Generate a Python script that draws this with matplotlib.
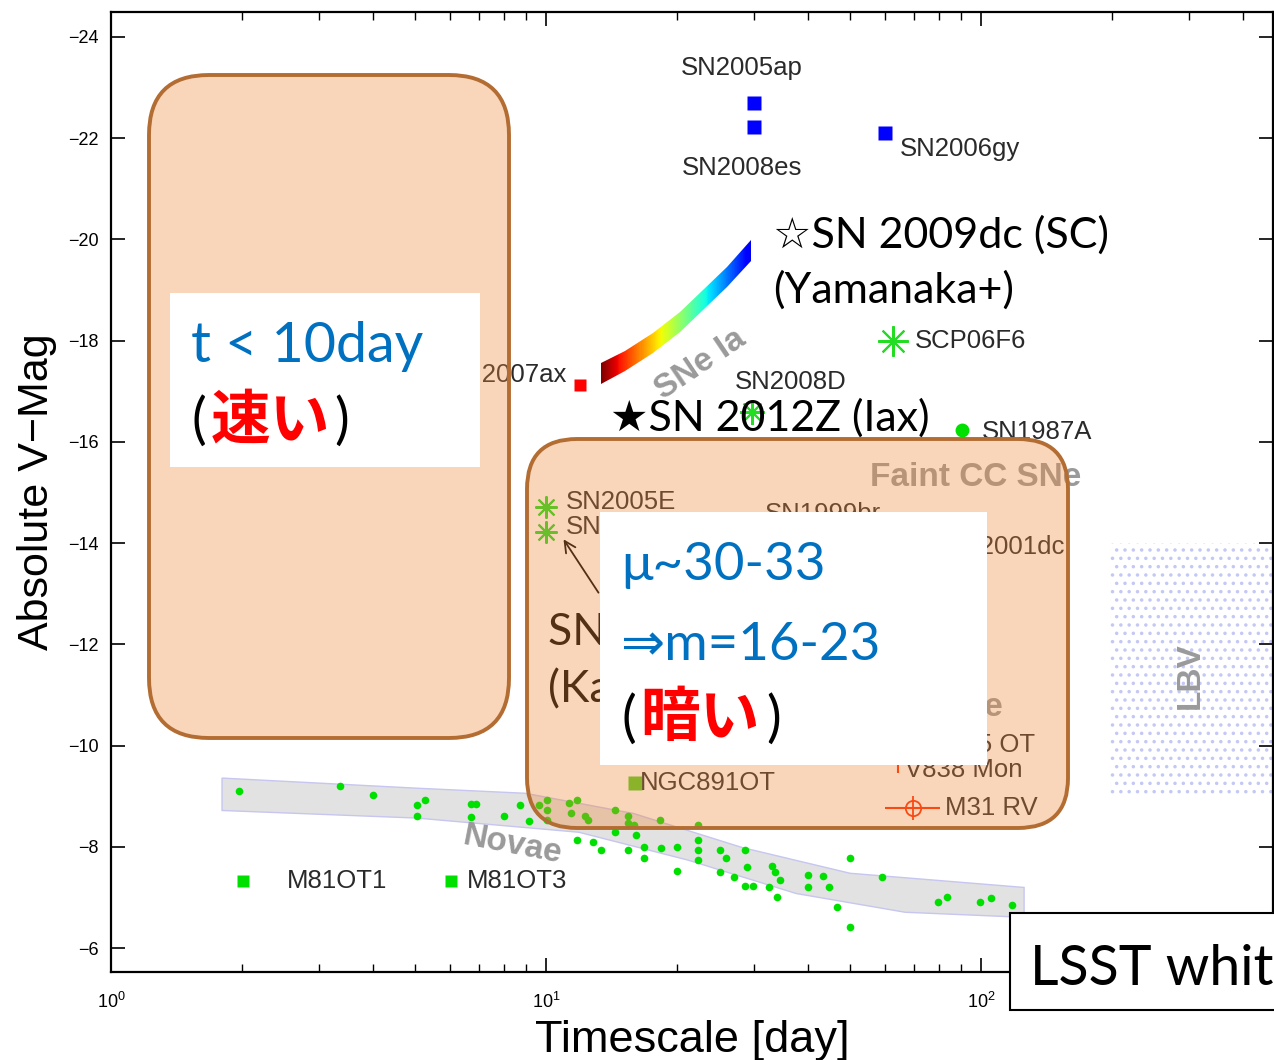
import numpy as np
import matplotlib
matplotlib.use("Agg")
import matplotlib.pyplot as plt
from matplotlib.patches import FancyBboxPatch, Rectangle, Polygon, FancyArrowPatch

plt.rcParams['font.family'] = ['Liberation Sans', 'DejaVu Sans']
plt.rcParams['hatch.linewidth'] = 1.3

W, H = 1274, 1060

# novae (timescale [day], absolute V mag)
novae_t = [1.97, 3.36, 4.00, 5.27, 5.05, 5.05, 6.72, 6.90, 6.72, 8.01, 8.71, 9.14,
           9.64, 10.05, 10.05, 10.05, 11.29, 11.79, 11.41, 12.29, 12.49, 14.41,
           15.44, 15.44, 15.94, 16.10, 14.41, 18.29, 11.79, 12.83, 13.38, 15.44,
           16.80, 16.80, 18.38, 20.01, 22.36, 22.36, 22.36, 22.36, 20.01, 25.12,
           25.93, 28.68, 28.98, 25.12, 27.05, 28.68, 29.92, 33.07, 33.60, 34.51,
           32.55, 33.96, 40.02, 40.02, 43.34, 44.74, 46.67, 50.0, 50.0, 59.22,
           79.62, 83.54, 99.5, 105.4, 117.8]
novae_mag = [-9.10, -9.20, -9.02, -8.92, -8.82, -8.62, -8.84, -8.84, -8.60, -8.62,
             -8.82, -8.51, -8.82, -8.92, -8.72, -8.53, -8.86, -8.92, -8.68, -8.62,
             -8.53, -8.72, -8.62, -8.47, -8.43, -8.23, -8.29, -8.53, -8.13, -8.09,
             -7.93, -7.93, -7.99, -7.79, -7.97, -7.99, -8.43, -8.13, -7.93, -7.74,
             -7.52, -7.93, -7.79, -7.93, -7.60, -7.50, -7.40, -7.22, -7.22, -7.62,
             -7.50, -7.34, -7.20, -7.02, -7.44, -7.20, -7.42, -7.20, -6.81, -7.79,
             -6.41, -7.40, -6.91, -7.02, -6.91, -7.00, -6.85]

# novae band outline
band_top_t = [1.8, 5.05, 8.95, 15.9, 28.2, 50.0, 125.6]
band_top_mag = [-9.36, -9.16, -9.06, -8.66, -7.99, -7.48, -7.20]
band_bot_t = [1.8, 5.05, 11.9, 21.2, 37.6, 66.9, 125.6]
band_bot_mag = [-8.72, -8.57, -8.29, -7.74, -7.08, -6.71, -6.61]

# SNe Ia track (centre line)
ia_t = [13.4, 15.2, 17.6, 20.3, 23.0, 26.0, 29.6]
ia_mag = [-17.35, -17.60, -17.95, -18.37, -18.80, -19.25, -19.78]
ia_half = 0.2

# LBV region
lbv_t = [198, 520]
lbv_mag = [-14.0, -9.0]

# superluminous SNe (blue squares)
slsn_t = [30.1, 30.1, 60.2]
slsn_mag = [-22.70, -22.22, -22.10]

# green asterisks
ast_names = ['SCP06F6', 'SN2008D', 'SN2005E', 'SN2008ha']
ast_t = [62.8, 29.8, 10.0, 10.0]
ast_mag = [-17.99, -16.59, -14.71, -14.22]
ast_size = [22, 18, 16, 16]

# other objects
sn07ax = (12.0, -17.12)
sn87a = (90.4, -16.23)
ngc891 = (16.0, -9.26)
m81_t = [2.01, 6.05]
m81_mag = [-7.32, -7.32]
v838 = (64.5, -9.61)
m31rv = (69.8, -8.76)
m31rv_err = [60.2, 80.5]

# (text, t, mag, ha)
labels = [
    ('SN2005ap', 28.2, -23.39, 'center'),
    ('SN2008es', 28.2, -21.41, 'center'),
    ('SN2006gy', 65.2, -21.79, 'left'),
    ('SCP06F6', 70.5, -17.99, 'left'),
    ('SN2008D', 27.2, -17.18, 'left'),
    ('SN1987A', 100.5, -16.19, 'left'),
    ('SN2007ax', 11.17, -17.32, 'right'),
    ('SN2005E', 11.12, -14.81, 'left'),
    ('SN2008ha', 11.12, -14.32, 'left'),
    ('SN1999br', 31.9, -14.57, 'left'),
    ('SN2001dc', 156, -13.92, 'right'),
    ('M85 OT', 133, -10.01, 'right'),
    ('V838 Mon', 66.9, -9.51, 'left'),
    ('M31 RV', 82.7, -8.76, 'left'),
    ('NGC891OT', 16.45, -9.26, 'left'),
    ('M81OT1', 2.54, -7.32, 'left'),
    ('M81OT3', 6.58, -7.32, 'left'),
]

# (text, t, mag, rotation, ha)
class_labels = [
    ('SNe Ia', 22.6, -17.52, 34, 'center'),
    ('Faint CC SNe', 97.4, -15.30, 0, 'center'),
    ('Luminous Red Novae', 112.4, -10.76, 0, 'right'),
    ('Novae', 8.4, -8.03, -11, 'center'),
    ('LBV', 302, -11.39, 90, 'center'),
]

fig = plt.figure(figsize=(W / 100, H / 100), dpi=100)
ax = fig.add_axes([111 / W, 1 - 972 / H, (1273 - 111) / W, (972 - 12) / H])
ax.set_xscale('log')
ax.set_xlim(1, 469)
ax.set_ylim(-5.53, -24.49)
ax.set_yticks(np.arange(-24, -5, 2))
ax.tick_params(which='both', direction='in', top=True, right=True, labelsize=13)
ax.tick_params(which='major', length=10, width=1.2)
ax.tick_params(which='minor', length=6, width=1.0)
ax.tick_params(axis='y', pad=9)
ax.tick_params(axis='x', pad=14)
for s in ax.spines.values():
    s.set_linewidth(1.6)
ax.set_xlabel('Timescale [day]', fontsize=32.5, labelpad=6)
ax.set_ylabel('Absolute V\u2212Mag', fontsize=31, labelpad=8)

# novae band + points
verts = list(zip(band_top_t, band_top_mag)) + list(zip(band_bot_t[::-1], band_bot_mag[::-1]))
ax.add_patch(Polygon(verts, closed=True, facecolor='#e2e2e2', edgecolor='#c6c6f0', lw=1, zorder=1))
ax.plot(novae_t, novae_mag, 'o', color='#00e000', ms=5.5, mec='none', zorder=3)

# LBV dotted region
ax.add_patch(Rectangle((lbv_t[0], lbv_mag[0]), lbv_t[1] - lbv_t[0], lbv_mag[1] - lbv_mag[0],
                       facecolor='none', edgecolor='#c4c8f4', lw=0, hatch='..', zorder=1))

# SNe Ia colour track
ia_mag = np.array(ia_mag)
ia_verts = list(zip(ia_t, ia_mag - ia_half)) + list(zip(ia_t[::-1], (ia_mag + ia_half)[::-1]))
clip = Polygon(ia_verts, closed=True, facecolor='none', edgecolor='none')
ax.add_patch(clip)
xe = np.geomspace(ia_t[0], ia_t[-1], 150)
ye = [ia_mag.min() - 0.5, ia_mag.max() + 0.5]
ramp = np.linspace(1.0, 0.1, len(xe) - 1)[None, :]
mesh = ax.pcolormesh(xe, ye, ramp, cmap='jet', vmin=0, vmax=1, shading='flat', zorder=2)
mesh.set_clip_path(clip)

# markers
ax.plot(slsn_t, slsn_mag, 's', color='#0000ff', ms=10, mec='none', zorder=3)
for t, m, sz in zip(ast_t, ast_mag, ast_size):
    ax.plot(t, m, marker=(8, 2, 0), color='#22dd22', ms=sz, mew=1.5, zorder=3)
ax.plot(*sn07ax, 's', color='#ff0000', ms=8, mec='none', zorder=3)
ax.plot(*sn87a, 'o', color='#00e000', ms=10, mec='none', zorder=3)
ax.plot(*ngc891, 's', color='#55cc22', ms=10, mec='none', zorder=3)
ax.plot(m81_t, m81_mag, 's', color='#00e000', ms=9, mec='none', zorder=3)
ax.plot(*v838, '|', color='#ff2a00', ms=11, mew=1.5, zorder=3)
ax.errorbar(m31rv[0], m31rv[1], xerr=[[m31rv[0] - m31rv_err[0]], [m31rv_err[1] - m31rv[0]]],
            fmt='o', mfc='none', mec='#ff2a00', ecolor='#ff2a00', ms=11, mew=1.3,
            elinewidth=1.5, zorder=3)
ax.plot(*m31rv, '+', color='#ff2a00', ms=17, mew=1.3, zorder=3)

for txt, t, m, ha in labels:
    ax.text(t, m, txt, fontsize=18.5, color='#2a2a2a', ha=ha, va='center', zorder=4)
for txt, t, m, rot, ha in class_labels:
    ax.text(t, m, txt, fontsize=24, color='#9a9a9a', fontweight='bold', rotation=rot,
            ha=ha, va='center', rotation_mode='anchor', zorder=4)


# ---- slide overlay (pixel positions from top-left) ----
def fx(x):
    return x / W


def fy(y):
    return 1 - y / H


def inch(x, y):
    return x / 100, (H - y) / 100


LAT = ['Lato', 'DejaVu Sans']
JP = ['Noto Sans CJK JP']
BLUE = '#0070c0'

fig.text(fx(548), fy(645), 'SN 2010X', family=LAT, fontsize=32, color='black', zorder=1)
fig.text(fx(548), fy(702), '(Kasliwal+)', family=LAT, fontsize=32, color='black', zorder=1)
fig.add_artist(FancyArrowPatch(inch(600, 595), inch(562, 537), arrowstyle='->',
                               mutation_scale=20, lw=1.3, color='black',
                               transform=fig.dpi_scale_trans, zorder=1))

for x0, y0, x1, y1, r in [(149, 75, 509, 738, 0.6), (527, 439, 1068, 828, 0.5)]:
    fig.add_artist(FancyBboxPatch(inch(x0, y1), (x1 - x0) / 100, (y1 - y0) / 100,
                                  boxstyle='round,pad=0,rounding_size=%s' % r,
                                  facecolor=(0.94, 0.53, 0.23, 0.35), edgecolor='#b36d32',
                                  lw=2.8, transform=fig.dpi_scale_trans, zorder=2))

for x0, y0, x1, y1 in [(170, 293, 480, 467), (600, 512, 987, 765)]:
    fig.add_artist(Rectangle(inch(x0, y1), (x1 - x0) / 100, (y1 - y0) / 100,
                             facecolor='white', edgecolor='none',
                             transform=fig.dpi_scale_trans, zorder=3))

fig.text(fx(191), fy(362), 't < 10day', family=LAT, fontsize=40, color=BLUE, zorder=4)
fig.text(fx(191), fy(438), '(', family=LAT, fontsize=40, color='black', zorder=4)
fig.text(fx(211), fy(438), '速い', family=JP, fontsize=43, fontweight='bold', color='red', zorder=4)
fig.text(fx(334), fy(438), ')', family=LAT, fontsize=40, color='black', zorder=4)

fig.text(fx(621), fy(580), 'μ~30-33', family=LAT, fontsize=38, color=BLUE, zorder=4)
fig.text(fx(621), fy(660), '⇒m=16-23', family=LAT, fontsize=38, color=BLUE, zorder=4)
fig.text(fx(621), fy(736), '(', family=LAT, fontsize=40, color='black', zorder=4)
fig.text(fx(640), fy(736), '暗い', family=JP, fontsize=43, fontweight='bold', color='red', zorder=4)
fig.text(fx(766), fy(736), ')', family=LAT, fontsize=40, color='black', zorder=4)

fig.text(fx(773), fy(248), '☆SN 2009dc (SC)', family=LAT, fontsize=31, color='black', zorder=4)
fig.text(fx(773), fy(303), '(Yamanaka+)', family=LAT, fontsize=31, color='black', zorder=4)
fig.text(fx(610), fy(431), '★SN 2012Z (Iax)', family=LAT, fontsize=31, color='black', zorder=4)

fig.add_artist(Rectangle(inch(1010, 1010), 3.0, 0.97, facecolor='white', edgecolor='black',
                         lw=1.5, transform=fig.dpi_scale_trans, zorder=5))
fig.text(fx(1030), fy(985), 'LSST white paper', family=LAT, fontsize=40, color='black', zorder=6)

fig.savefig('out.png', dpi=100)
